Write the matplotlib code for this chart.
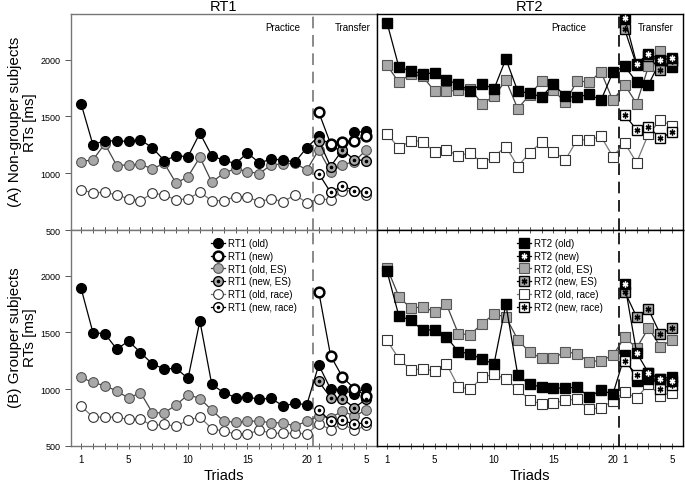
import matplotlib.pyplot as plt
from matplotlib.lines import Line2D

plt.rcParams['font.family'] = ['Liberation Sans', 'DejaVu Sans']

practice = list(range(1, 21))
transfer = list(range(21, 26))
x_old = practice + transfer
tick_pos = [1, 5, 10, 15, 20, 21, 25]
tick_labels = ['1', '5', '10', '15', '20', '1', '5']

# (A) non-grouper subjects, RT1
a_rt1_old = [1612, 1250, 1288, 1282, 1282, 1294, 1224, 1112, 1153, 1147, 1353, 1153, 1115,
             1085, 1179, 1091, 1124, 1118, 1097, 1226, 1326, 1244, 1188, 1359, 1368]
a_rt1_old_es = [1103, 1118, 1259, 1068, 1074, 1079, 1038, 1088, 912, 971, 1141, 921, 1000,
                1041, 1015, 997, 1074, 1082, 1088, 1029, 1206, 1015, 1074, 1103, 1206]
a_rt1_old_race = [853, 829, 832, 809, 776, 759, 824, 809, 765, 776, 832, 759, 759,
                  794, 791, 750, 776, 750, 809, 741, 776, 765, 844, 847, 809]
a_rt1_new = [1538, 1259, 1274, 1288, 1329]
a_rt1_new_es = [1288, 1059, 1206, 1118, 1112]
a_rt1_new_race = [997, 832, 888, 847, 838]

# (A) non-grouper subjects, RT2
a_rt2_old = [2324, 1932, 1903, 1876, 1882, 1818, 1785, 1721, 1788, 1741, 2006, 1721, 1706,
             1671, 1785, 1676, 1668, 1697, 1641, 1888, 1941, 1803, 1779, 1991, 1932]
a_rt2_old_es = [1950, 1800, 1876, 1853, 1721, 1721, 1729, 1741, 1612, 1676, 1818, 1568, 1691,
                1809, 1729, 1624, 1815, 1800, 1894, 1641, 1779, 1612, 1941, 2074, 1985]
a_rt2_old_race = [1347, 1221, 1288, 1279, 1185, 1206, 1153, 1182, 1088, 1147, 1235, 1059, 1182,
                  1271, 1191, 1118, 1294, 1294, 1324, 1147, 1265, 1094, 1347, 1465, 1418]
a_rt2_new = [2368, 1965, 2050, 2000, 2010]
a_rt2_new_es = [2265, 1950, 2030, 1905, 1985]
a_rt2_new_race = [1515, 1382, 1406, 1309, 1362]

# (B) grouper subjects, RT1
b_rt1_old = [1888, 1497, 1488, 1352, 1423, 1322, 1222, 1177, 1183, 1094, 1600, 1041, 970,
             926, 931, 911, 920, 851, 875, 863, 1213, 1000, 994, 955, 1014]
b_rt1_old_es = [1103, 1059, 1029, 985, 920, 970, 792, 792, 860, 952, 917, 816, 718,
                709, 718, 718, 704, 704, 674, 718, 763, 748, 807, 763, 816]
b_rt1_old_race = [851, 754, 754, 754, 733, 733, 680, 689, 674, 727, 754, 653, 630,
                  606, 606, 639, 612, 612, 612, 606, 695, 644, 695, 636, 680]
b_rt1_new = [1858, 1293, 1106, 1005, 940]
b_rt1_new_es = [1068, 926, 914, 837, 911]
b_rt1_new_race = [816, 718, 727, 689, 709]

# (B) grouper subjects, RT2
b_rt2_old = [2036, 1642, 1607, 1518, 1524, 1458, 1331, 1310, 1263, 1222, 1746, 1124, 1041,
             1020, 1009, 1009, 1017, 932, 991, 955, 1296, 1074, 1088, 1088, 1109]
b_rt2_old_es = [2065, 1814, 1710, 1725, 1680, 1746, 1488, 1479, 1577, 1660, 1636, 1435, 1325,
                1272, 1272, 1331, 1310, 1242, 1251, 1296, 1458, 1361, 1538, 1375, 1435]
b_rt2_old_race = [1429, 1266, 1171, 1177, 1162, 1222, 1020, 1000, 1103, 1133, 1088, 1000, 905,
                  867, 876, 902, 911, 822, 837, 896, 976, 920, 1044, 941, 970]
b_rt2_new = [1926, 1322, 1142, 1088, 1074]
b_rt2_new_es = [1858, 1636, 1701, 1482, 1541]
b_rt2_new_race = [1251, 1124, 1142, 1005, 1035]

GRAY = '#a8a8a8'


def styles(shape):
    ms = 7 if shape == 'o' else 6.5
    star = '.' if shape == 'o' else (6, 2, 0)
    sms = 3.2 if shape == 'o' else 4.2
    new_fc = 'white' if shape == 'o' else 'black'
    new_mew = 1.8 if shape == 'o' else 1.0
    new_dot = None if shape == 'o' else 'white'
    return [
        # label suffix, face, edge, line color, mew, dot color
        ('old', 'black', 'black', 'black', 1.0, None),
        ('new', new_fc, 'black', 'black', new_mew, new_dot),
        ('old, ES', GRAY, '#555555', '#444444', 0.8, None),
        ('new, ES', GRAY, 'black', 'black', 1.0, 'black'),
        ('old, race', 'white', '#333333', '#777777', 0.8, None),
        ('new, race', 'white', 'black', 'black', 1.0, 'black'),
    ], ms, star, sms


def panel(ax, name, shape, series, legend=False):
    st, ms, star, sms = styles(shape)
    order = [4, 2, 0, 5, 3, 1]
    handles = {}
    for i in order:
        lab, fc, ec, lc, mew, dot = st[i]
        y = series[i]
        x = x_old if len(y) == 25 else transfer
        ax.plot(x, y, color=lc, lw=0.9, marker=shape, ms=ms, mfc=fc, mec=ec,
                mew=mew, zorder=3)
        h = Line2D([], [], color=lc, lw=0.9, marker=shape, ms=ms, mfc=fc, mec=ec, mew=mew)
        if dot is not None:
            ax.plot(x, y, ls='none', marker=star, ms=sms, color=dot, mew=1.0, zorder=4)
            d = Line2D([], [], ls='none', marker=star, ms=sms, color=dot, mew=1.0)
            handles[i] = ((h, d), '%s (%s)' % (name, lab))
        else:
            handles[i] = (h, '%s (%s)' % (name, lab))
    if legend:
        hs = [handles[i][0] for i in range(6)]
        ls = [handles[i][1] for i in range(6)]
        ax.legend(hs, ls, loc='upper left', bbox_to_anchor=(0.43, 1.0), frameon=False,
                  fontsize=7, handlelength=1.5, handletextpad=0.3, labelspacing=0.28,
                  borderpad=0.35)


fig = plt.figure(figsize=(6.85, 4.89), dpi=100)
gs = fig.add_gridspec(2, 2, left=0.1036, right=0.997, top=0.969, bottom=0.086,
                      hspace=0, wspace=0)
axes = [[fig.add_subplot(gs[r, c]) for c in range(2)] for r in range(2)]

data = {
    (0, 0): ('RT1', 'o', [a_rt1_old, a_rt1_new, a_rt1_old_es, a_rt1_new_es, a_rt1_old_race, a_rt1_new_race]),
    (0, 1): ('RT2', 's', [a_rt2_old, a_rt2_new, a_rt2_old_es, a_rt2_new_es, a_rt2_old_race, a_rt2_new_race]),
    (1, 0): ('RT1', 'o', [b_rt1_old, b_rt1_new, b_rt1_old_es, b_rt1_new_es, b_rt1_old_race, b_rt1_new_race]),
    (1, 1): ('RT2', 's', [b_rt2_old, b_rt2_new, b_rt2_old_es, b_rt2_new_es, b_rt2_old_race, b_rt2_new_race]),
}

for (r, c), (name, shape, series) in data.items():
    ax = axes[r][c]
    panel(ax, name, shape, series, legend=(r == 1))
    ax.set_xlim(0.15, 25.9)
    ax.set_ylim(500, 2400)
    edge = '#777777' if c == 0 else 'black'
    for sp in ax.spines.values():
        sp.set_color(edge)
        sp.set_linewidth(1.0)
    ax.axvline(20.5, color=edge, lw=1.2, ls=(0, (7, 4)), zorder=2)
    ax.set_xticks(range(1, 26), minor=True)
    ax.set_xticks(tick_pos)
    ax.tick_params(axis='x', which='both', direction='inout', length=4, width=0.7,
                   colors='#555555', top=(r == 1))
    ax.tick_params(axis='x', labelsize=7, labelcolor='black', pad=4)
    if r == 1:
        ax.set_xticklabels(tick_labels)
        ax.set_xlabel('Triads', fontsize=10.5, labelpad=3)
    else:
        ax.set_xticklabels([])
        ax.set_title(name, fontsize=10.5, pad=3)
        ax.text(18.0 if c == 0 else 16.3, 2290, 'Practice', fontsize=7, ha='center', va='center')
        ax.text(23.9 if c == 0 else 23.6, 2290, 'Transfer', fontsize=7, ha='center', va='center')
    if c == 0:
        ax.set_yticks([500, 1000, 1500, 2000])
        ax.tick_params(axis='y', direction='out', length=4, width=0.7, labelsize=6.5,
                       colors='#555555', labelcolor='black')
    else:
        ax.set_yticks([])

fig.text(0.033, 0.75, '(A) Non-grouper subjects\nRTs [ms]', rotation=90, ha='center',
         va='center', fontsize=11, linespacing=1.1)
fig.text(0.033, 0.31, '(B) Grouper subjects\nRTs [ms]', rotation=90, ha='center',
         va='center', fontsize=11, linespacing=1.1)

fig.savefig('out.png', dpi=100)
